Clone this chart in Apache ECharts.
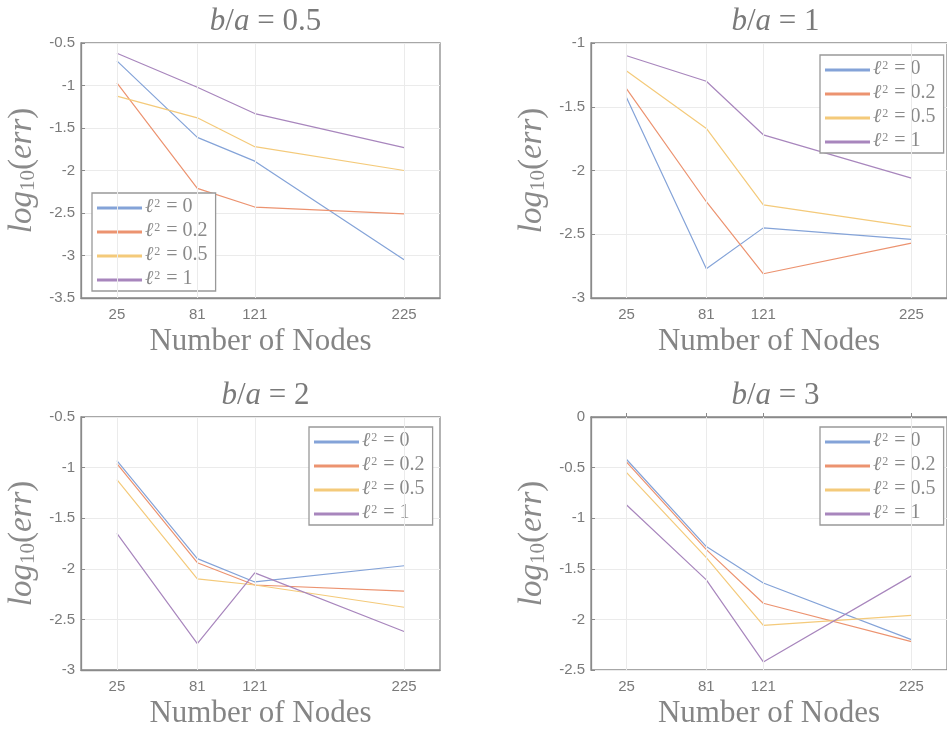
<!DOCTYPE html>
<html>
<head>
<meta charset="utf-8">
<title>log10(err) vs Number of Nodes</title>
<script src="https://cdn.jsdelivr.net/npm/echarts@6/dist/echarts.min.js"></script>
<style>
  html, body { margin: 0; padding: 0; background: #fff; }
  #chart { width: 947px; height: 733px; }
</style>
</head>
<body>
<div id="chart"></div>
<script>
// x values (number of nodes) and the legend labels
var nodes = [25, 81, 121, 225];
var ellSq = ['0', '0.2', '0.5', '1'];
var ratios = ['0.5', '1', '2', '3'];

// log10(err) per panel, one row per l^2 value (0, 0.2, 0.5, 1)
var errBa05 = [
  [-0.71, -1.61, -1.89, -3.05],
  [-0.97, -2.21, -2.43, -2.51],
  [-1.125, -1.38, -1.72, -2.00],
  [-0.62, -1.02, -1.33, -1.73]
];
var errBa1 = [
  [-1.43, -2.77, -2.45, -2.54],
  [-1.36, -2.245, -2.81, -2.57],
  [-1.22, -1.67, -2.27, -2.44],
  [-1.10, -1.30, -1.72, -2.06]
];
var errBa2 = [
  [-0.93, -1.90, -2.13, -1.97],
  [-0.96, -1.94, -2.16, -2.22],
  [-1.12, -2.10, -2.16, -2.38],
  [-1.65, -2.74, -2.04, -2.62]
];
var errBa3 = [
  [-0.42, -1.28, -1.64, -2.20],
  [-0.445, -1.31, -1.84, -2.22],
  [-0.55, -1.39, -2.06, -1.96],
  [-0.87, -1.61, -2.42, -1.57]
];
var yRanges = [[-3.5, -0.5], [-3, -1], [-3, -0.5], [-2.5, 0]];

var panels = [errBa05, errBa1, errBa2, errBa3];
var colors = ['#84a3d8', '#ec9370', '#f4ca7a', '#a886bd'];
var grey = '#8a8a8a';
var serif = '"Liberation Serif", "DejaVu Serif", serif';
var sans = '"Liberation Sans", Arial, sans-serif';

// panel boxes: [left, top, width, height]
var boxes = [[81, 43, 359, 255], [591, 43, 359, 255], [81, 417, 359, 253], [591, 417, 359, 253]];
var legendPos = [[92, 193], [820, 55], [309, 427], [820, 427]];

function seriesName(v) { return 'l2=' + v; }

var grids = [], xAxes = [], yAxes = [], series = [], titles = [], legends = [];

panels.forEach(function (panel, p) {
  var b = boxes[p];
  grids.push({
    left: b[0], top: b[1], width: b[2], height: b[3],
    show: true, borderColor: grey, borderWidth: 1.3, backgroundColor: '#fff'
  });
  titles.push({
    text: '{i|b}{n|/}{i|a}{n| = ' + ratios[p] + '}',
    left: b[0] + b[2] / 2, top: b[1] - 42, textAlign: 'center',
    textStyle: {
      fontWeight: 'normal',
      rich: {
        i: { fontFamily: serif, fontStyle: 'italic', fontWeight: 'normal', fontSize: 31, color: '#7a7a7a' },
        n: { fontFamily: serif, fontWeight: 'normal', fontSize: 31, color: '#7a7a7a' }
      }
    }
  });
  xAxes.push({
    gridIndex: p, type: 'value', min: 0, max: 250,
    name: 'Number of Nodes', nameLocation: 'middle', nameGap: 28,
    nameTextStyle: { fontFamily: serif, fontSize: 31, color: '#858585' },
    axisLine: { lineStyle: { color: grey, width: 1.3 } },
    axisTick: { inside: true, length: 4, customValues: nodes, lineStyle: { color: grey } },
    axisLabel: { customValues: nodes, margin: 9, fontSize: 15, color: '#7a7a7a', fontFamily: sans },
    splitLine: { show: false }
  });
  yAxes.push({
    gridIndex: p, type: 'value', min: yRanges[p][0], max: yRanges[p][1], interval: 0.5,
    name: '{i|log}{s|10}{n|(}{i|err}{n|)}', nameLocation: 'middle', nameGap: 42, nameRotate: 90,
    nameTextStyle: {
      rich: {
        i: { fontFamily: serif, fontStyle: 'italic', fontSize: 33, color: '#8a8a8a', verticalAlign: 'bottom', lineHeight: 34 },
        n: { fontFamily: serif, fontSize: 33, color: '#8a8a8a', verticalAlign: 'bottom', lineHeight: 34 },
        s: { fontFamily: serif, fontSize: 21, color: '#8a8a8a', verticalAlign: 'bottom', lineHeight: 14 }
      }
    },
    axisLine: { lineStyle: { color: grey, width: 1.3 } },
    axisTick: { inside: true, length: 4, lineStyle: { color: grey } },
    axisLabel: { margin: 6, fontSize: 15, color: '#7a7a7a', fontFamily: sans },
    splitLine: { show: true, lineStyle: { color: '#ebebeb', width: 1 } }
  });
  // vertical grid lines at the node counts
  series.push({
    type: 'line', xAxisIndex: p, yAxisIndex: p, data: [], z: 1, silent: true,
    markLine: {
      silent: true, symbol: 'none', label: { show: false },
      lineStyle: { color: '#ebebeb', type: 'solid', width: 1 },
      data: nodes.map(function (n) { return { xAxis: n }; })
    }
  });
  panel.forEach(function (row, k) {
    series.push({
      name: seriesName(ellSq[k]), type: 'line', xAxisIndex: p, yAxisIndex: p, z: 3,
      symbol: 'none', animation: false,
      lineStyle: { color: colors[k], width: 1.2 }, itemStyle: { color: colors[k] },
      data: nodes.map(function (n, i) { return [n, row[i]]; })
    });
  });
  legends.push({
    orient: 'vertical', left: legendPos[p][0], top: legendPos[p][1],
    backgroundColor: '#fff', borderColor: '#999', borderWidth: 1.3,
    padding: [4, 8, 2, 5], itemGap: 4, itemWidth: 45, itemHeight: 3, icon: 'rect',
    selectedMode: false,
    data: ellSq.map(seriesName),
    formatter: function (name) { return '{l|ℓ}{s|2}{n| = ' + name.slice(3) + '}'; },
    textStyle: {
      padding: [0, 0, 0, -2],
      rich: {
        l: { fontFamily: serif, fontStyle: 'italic', fontSize: 20, color: '#8a8a8a', lineHeight: 18, verticalAlign: 'bottom' },
        s: { fontFamily: serif, fontSize: 12, color: '#8a8a8a', lineHeight: 12, verticalAlign: 'bottom', padding: [0, 1, 7, 1] },
        n: { fontFamily: serif, fontSize: 20, color: '#8a8a8a', lineHeight: 18, verticalAlign: 'bottom' }
      }
    }
  });
});

var myChart = echarts.init(document.getElementById('chart'));
myChart.setOption({
  animation: false,
  title: titles,
  legend: legends,
  grid: grids,
  xAxis: xAxes,
  yAxis: yAxes,
  series: series
});
</script>
</body>
</html>
